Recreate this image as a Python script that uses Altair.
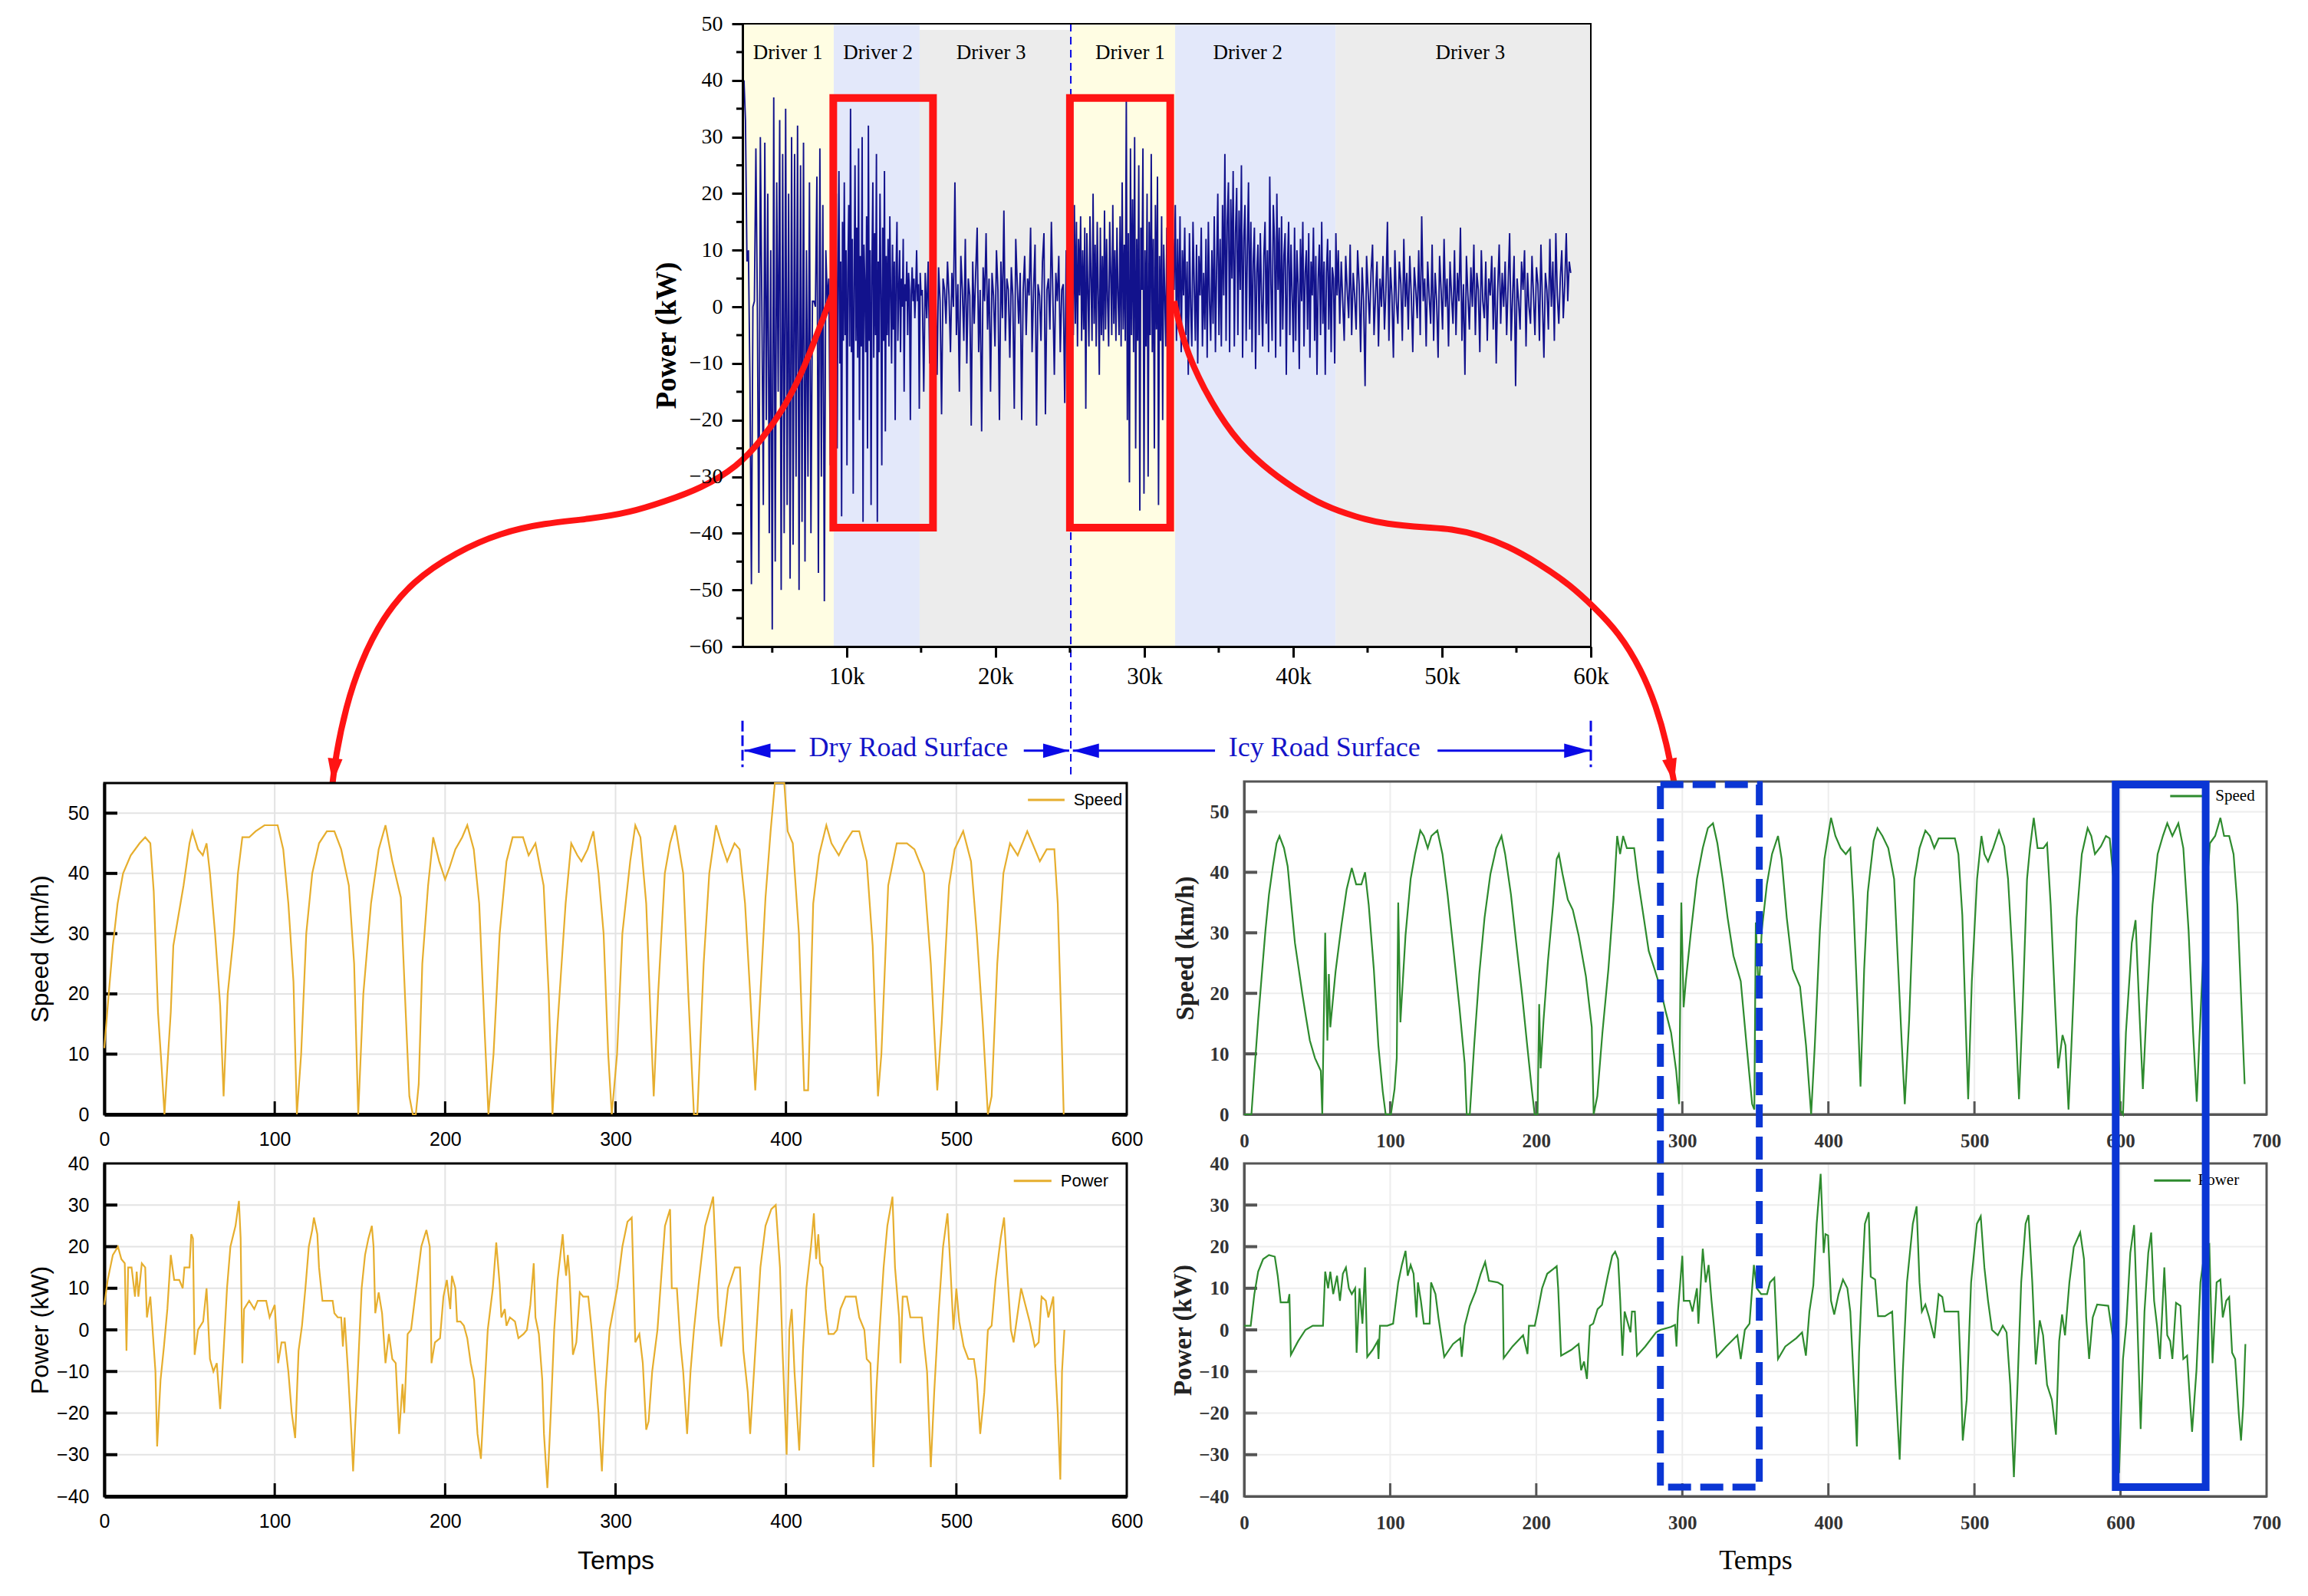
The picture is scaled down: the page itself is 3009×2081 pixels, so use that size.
import altair as alt
import pandas as pd

SERIF = "Liberation Serif"
SANS = "Liberation Sans"
RED = "#FF1414"
BLUE_TXT = "#1414C8"
BLUE_AR = "#0A0AE6"
BLUE_BOX = "#0B36D4"
NAVY = "#12128C"
ORANGE = "#E6AE2E"
GREEN = "#2E8B2E"

# whole-figure view (page minus 8px margin)
W, H = 2993, 2065
T_X, T_Y = (960, 2066), (835, 23)
L_X, R_X = (128, 1461), (1614, 2947)
LS_Y, LP_Y = (1445, 1013), (1943, 1509)
RS_Y, RP_Y = (1445, 1011), (1943, 1509)

T_XD, T_YD = (3000, 60000), (-60, 50)
L_XD, R_XD = (0, 600), (0, 700)
S_YD, P_YD = (0, 55), (-40, 40)

# ---------------- data: top power trace (kW), by driver segment ----------------
seg_a = [40, 33, 8, 10, -13, -49, 0, 1, 28, 0, -47, 30, 1, -35, 29, -20, 20, -40, 10, -57,
         37, -45, 22, -15, 33, -50, 27, -40, 35, -35, 20, -48, 30, -42, 27, -30, 32, -50, 25, -38,
         29, -45, 10, -30, 22, -40, 1, 1, 0, 23, -47, 28, -30, 18, -52, 10, 1, 5, -28, 8]
seg_b = [27, -34, 12, -8, 20, -25, 5, 24, -10, 8, -37, 15, -6, 22, -5, 10, -28, 6, 18, -7,
         35, -8, 12, -33, 3, 25, -6, 14, -9, 28, -20, 9, -7, 30, -38, 11, 4, -8, 16, -25,
         32, -6, 10, -35, 7, 22, -9, 13, -5, 27, -38, 8, -8, 20, 3, -28, 14, -6, 24, -22,
         9, -5, 12, -7, 16, 2, -10, 11, -4, 8, -20, 6, 15, -6, 3, 10, -8, 5, 0, 12,
         -15, 4, 1, 8, -5, 6, 3, -20, 2, 7, 1, 5, -2, 3, 10, 1, 4, -18, 6, 2]
seg_c = [3, -15, 6, -2, 8, -10, 2, 5, -5, 4, -12, 7, 1, -19, 5, 3, -3, 8, 2, -8,
         6, 0, 22, -5, 4, -15, 9, 3, -6, 12, -10, 5, 2, -21, 8, -3, 6, 14, -8, 3,
         -22, 7, 1, 13, -4, 5, -15, 6, 2, -7, 10, 3, -20, 8, -2, 17, -6, 5, 3, -9,
         7, 2, -18, 12, 4, -3, 6, -20, 3, 9, -5, 5, 2, 14, -8, 3, 11, -21, 4, 2,
         -6, 8, 13, -19, 3, 5, -4, 15, 2, -12, 6, 1, 9, -8, 3, 4, -17, 10, 2, 5, -3, 8]
seg_d = [-5, 18, -3, 15, -7, 12, 2, 16, -6, 10, -4, 14, -18, 13, 3, -7, 16, 5, -6, 20,
         -3, 11, -7, 15, 2, -12, 14, -5, 9, -6, 17, -4, 12, 1, -7, 15, 6, -5, 18, -3,
         10, -6, 14, 2, -5, 16, -7, 22, -4, 11, -6, 37, -20, 13, -31, 28, -5, 19, -8, 30,
         -25, 12, -6, 25, -36, 14, 3, 28, -33, 10, -7, 20, -30, 15, -5, 27, -8, 12, -25, 18,
         -4, 23, -35, 9, -6, 16, -20, 11, 2, -7, 14, -5, 10, -25, 6, -6, 12, 3]
seg_e = [18, -6, 12, -3, 16, -8, 10, 2, 14, -5, 8, -12, 13, 0, -7, 15, 4, -6, 11, -10,
         9, 2, 14, -7, 6, -4, 12, -9, 15, 1, -6, 10, -3, 16, -8, 7, 20, -5, 12, -7,
         18, 2, 27, -6, 15, 22, -8, 19, 5, 24, -7, 13, 21, -5, 17, 3, 25, -9, 12, 18,
         -6, 10, 22, -4, 15, -8, 8, 14, -11, 6, 11, -5, 13, 2, -7, 9, 15, -3, 10, -8,
         23, 4, -6, 18, 12, -9, 20, 3, 14, -7, 16, -4, 9, 13, -12, 7, 15, -5, 11, 2,
         -8, 14, -6, 10, 4, -11, 12, 1, 15, -7, 6, 10, -4, 13, -9, 8, 2, 14, -6, 9,
         -12, 5, 11, -5, 15, -3, 8, -12, 6, 12, -4, 10, -8, 7, 5, -10, 13, 2]
seg_f = [10, -3, 8, 1, -6, 9, 3, -2, 11, -5, 6, 2, -4, 10, 4, -8, 7, 1, -14, 9,
         3, -3, 6, 11, -5, 2, 8, -7, 5, 0, 9, -4, 3, 15, -6, 7, 2, -9, 10, 1,
         -3, 8, 4, -6, 12, 0, 6, -4, 9, 2, -8, 7, 3, -2, 10, -5, 16, 1, 5, -7,
         8, 2, -3, 11, -6, 6, 1, -9, 9, 3, -4, 12, 0, 5, -7, 8, 2, -3, 10, -5,
         6, 1, 14, -6, 4, -12, 9, 2, -4, 7, 0, 11, -5, 6, 3, -8, 10, 1, -2, 8,
         -6, 5, 2, 9, -4, 7, -10, 3, 11, -3, 6, 0, 8, -5, 4, 13, -6, 2, 9, -14,
         5, 1, -4, 8, 3, 10, -7, 6, 0, -3, 9, 2, -5, 7, 4, -6, 11, 1, -9, 6,
         3, -4, 12, 0, 8, -6, 13, 2, -3, 5, 10, -2, 4, 13, 1, 8, 6]
seg_span = [(3100, 9000), (9060, 15000), (15080, 25150), (25230, 32000), (32080, 42950), (43030, 58650)]

band_start = [3000, 9130, 14900, 25060, 32070, 42850]
band_end = [9130, 14900, 25060, 32070, 42850, 60000]
band_top = [50, 50, 48.9, 50, 50, 50]
band_color = ["#FFFDE3", "#E3E8FA", "#ECECEC", "#FFFDE3", "#E3E8FA", "#ECECEC"]
band_label = ["Driver 1", "Driver 2", "Driver 3", "Driver 1", "Driver 2", "Driver 3"]
band_label_x = [6050, 12100, 19700, 29050, 36950, 51900]

box_x1, box_x2 = [9100, 25000], [15800, 31740]
box_y1, box_y2 = [36.9, 36.9], [-39.0, -39.0]

curve_left = [(9000, 2), (8000, -4.9), (7200, -10.4), (5940, -17.3), (4300, -23.5), (2670, -28.2),
              (200, -32.1), (-2260, -34.4), (-4500, -36.3), (-7300, -37.5), (-10300, -38.2),
              (-13260, -39.9), (-16230, -43.3), (-19200, -48.5), (-21200, -55.0), (-22670, -62.8),
              (-23650, -70.6), (-24350, -79.6), (-24540, -84.1)]
curve_right = [(32000, 1), (32640, -6.5), (33900, -14.2), (35900, -22.8), (38000, -28.2),
               (40060, -32.1), (42100, -35.2), (44200, -37.1), (46200, -38.4), (49100, -39.0),
               (50600, -39.2), (52400, -40.2), (54400, -42.2), (56500, -45.3), (58600, -49.1),
               (60200, -53.0), (61900, -57.6), (63400, -64.1), (64400, -70.6), (65100, -77.1),
               (65600, -84.1)]
arrow_tip_x, arrow_tip_y, arrow_angle = [-24540, 65600], [-84.1, -84.1], [6, 349]

road_split = 25060
road_y = -78.4
road_seg_x1 = [3130, 21900, 25200, 49700]
road_seg_x2 = [6560, 24950, 34750, 59960]
road_text = ["Dry Road Surface", "Icy Road Surface"]
road_text_x = [14150, 42100]
road_left_tips = [3130, 25200]
road_right_tips = [24950, 59960]
road_bar_x = [3000, 60000]

ls_pairs = [(0, 11), (2, 18), (5, 28), (7.8, 35), (11, 40), (15.5, 43), (20.7, 45), (24, 46), (27, 45), (29, 37),
            (31.5, 17), (33.6, 8), (35.3, 0), (37, 8), (39, 17), (40.5, 28), (43.5, 33), (46.5, 38), (50, 45),
            (51.7, 47), (55, 44), (57.8, 43), (60, 45), (62, 40), (65, 30), (68, 18), (70, 3), (72.4, 20),
            (76, 30), (78.4, 40), (81, 46), (85, 46), (88.8, 47), (94, 48), (101.7, 48), (105, 44), (108, 35),
            (111, 22), (113, 0), (115.5, 10), (118.5, 30), (122, 40), (126, 45), (130.6, 47), (135, 47),
            (139, 44), (143.5, 38), (146.6, 25), (149, 0), (152, 20), (156.5, 35), (161, 44), (165, 48),
            (169, 42), (174, 36), (176.7, 18), (179, 3), (181, 0), (182.8, 0), (184.5, 5), (186.6, 25),
            (190, 38), (193, 46), (196.5, 42), (200, 39), (202.6, 41), (206, 44), (210, 46), (213, 48),
            (216.8, 44), (220, 35), (223, 15), (225.4, 0), (228.4, 10), (232, 30), (236, 42), (239.6, 46),
            (245.7, 46), (249, 43), (253, 45), (257.8, 38), (260.8, 20), (263, 0), (266, 15), (270.7, 35),
            (274, 45), (277.6, 43), (280, 42), (283.6, 44), (287, 47), (290, 40), (293, 30), (295.7, 10),
            (297.8, 0), (300.9, 10), (304, 30), (308.6, 42), (311.6, 48), (314.6, 46), (318, 35), (320.7, 15),
            (322.4, 3), (325, 20), (328.9, 40), (332, 45), (335, 48), (339.7, 40), (342.7, 20), (346, 0),
            (348, 0), (351.7, 25), (355, 40), (359, 48), (362, 45), (365.5, 42), (369.8, 45), (372.8, 44),
            (376, 35), (379, 20), (382, 4), (385, 20), (388, 36), (391, 47), (393.5, 55), (399, 55), (401, 47),
            (404, 45), (407.6, 30), (410.7, 4), (413, 4), (416, 35), (419.4, 43), (423.7, 48), (426.7, 45),
            (431, 43), (434.5, 45), (439, 47), (443, 47), (447.4, 42), (450.9, 28), (454, 3), (456, 10),
            (460, 38), (465, 45), (471, 45), (475.4, 44), (481, 40), (485, 25), (488.8, 4), (491.4, 15),
            (495.7, 38), (499, 44), (504, 47), (508.6, 42), (512, 30), (515.5, 15), (518.5, 0), (520.7, 3),
            (524, 25), (527.6, 40), (531.5, 45), (536, 43), (541.6, 47), (544.6, 45), (549, 42), (553, 44),
            (557.5, 44), (559.5, 35), (561.6, 15), (563, 0)]
lp_pairs = [(0, 6), (2, 12), (5, 18), (8, 20), (10, 17), (12, 16), (13, -5), (14, 15), (16, 15), (18, 8), (19, 14),
            (20, 8), (22, 16), (24, 15), (25, 3), (27, 8), (28, 2), (30, -10), (31, -28), (33, -12), (35, -4),
            (37, 5), (39, 18), (41, 12), (44, 12), (46, 10), (47, 15), (50, 15), (51, 23), (52, 22), (53, -6),
            (55, 0), (58, 2), (60, 10), (62, -7), (64, -10), (66, -8), (68, -19), (70, -5), (72, 10), (74, 20),
            (77, 25), (79, 31), (80, 22), (81, -8), (82, 5), (85, 7), (88, 5), (90, 7), (95, 7), (97, 3),
            (100, 6), (102, -8), (104, -3), (106, -3), (108, -10), (110, -20), (112, -26), (114, -5), (116, 1),
            (118, 10), (120, 20), (122, 24), (123, 27), (125, 23), (126, 15), (128, 7), (131, 7), (134, 7),
            (135, 4), (137, 3), (139, 3), (140, -4), (141, 3), (143, -10), (145, -25), (146, -34), (147, -25),
            (149, -8), (151, 10), (153, 18), (155, 22), (157, 25), (158, 20), (159, 4), (161, 9), (163, 4),
            (165, -8), (167, -1), (169, -7), (171, -8), (173, -25), (175, -13), (176, -20), (178, -1), (180, 0),
            (183, 10), (186, 20), (189, 24), (191, 20), (192, -8), (194, -3), (197, -2), (199, 8), (201, 12),
            (203, 5), (204, 13), (206, 10), (207, 2), (209, 2), (211, 1), (213, -2), (215, -8), (217, -12),
            (219, -25), (221, -31), (223, -15), (225, 0), (228, 10), (230, 21), (232, 11), (233, 3), (235, 5),
            (236, 1), (238, 3), (241, 2), (243, -2), (246, -1), (248, 0), (250, 6), (252, 16), (253, 3),
            (255, -1), (257, -12), (258, -25), (260, -38), (262, -20), (264, 0), (266, 12), (269, 23),
            (270, 17), (271, 13), (272, 18), (273, 13), (275, -6), (277, -3), (279, 9), (281, 8), (284, 8),
            (286, 0), (288, -10), (290, -20), (292, -34), (294, -15), (296.5, 0), (301, 10), (304, 20),
            (307, 26), (309.5, 27), (311.6, -3), (314, -1), (316, -8), (318, -24), (319.4, -22), (321.5, -10),
            (324.6, 0), (326.7, 12), (329, 25), (332, 29), (333, 10), (336, 10), (338, -3), (339.7, -10),
            (342, -25), (344, -10), (346, 0), (349, 12), (352.6, 25), (356, 30), (357.3, 32), (359, 16),
            (360.3, 3), (362, -4), (363.8, 2), (366, 10), (370, 15), (373, 15), (375, -5), (377.6, -15),
            (379, -25), (382, -5), (385, 15), (388, 25), (391.4, 29), (394, 30), (396.5, 15), (398, -5),
            (400.4, -30), (402, 0), (403.4, 5), (405, -10), (407.8, -29), (410, -5), (412, 10), (414.7, 20),
            (416.4, 28), (417.7, 17), (419, 23), (420, 16), (421.5, 15), (423.3, 5), (425, -1), (428, -1),
            (430, 0), (432, 5), (435, 8), (441, 8), (443, 3), (446, 0), (447.4, -7), (449.6, -8), (451.3, -33),
            (453, -15), (455, 0), (457.3, 15), (459.5, 25), (462.5, 32), (464, 15), (466.4, 3), (467.2, -8),
            (468.5, 8), (471, 8), (473, 3), (479.7, 3), (481, -3), (482.8, -10), (485, -33), (487, -15),
            (489.7, 5), (492.2, 20), (494.8, 28), (496.5, 15), (498.3, 0), (500, 10), (501.7, 2), (504.3, -4),
            (507, -7), (510.3, -7), (512, -12), (514, -25), (516.4, -15), (518.5, 0), (520.7, 1), (523, 12),
            (526, 22), (528, 27), (530, 13), (532, 0), (533.6, -3), (535.3, 2), (538, 10), (540.5, 6), (543, 2),
            (546, -4), (548.3, -3), (550, 8), (552.5, 7), (554, 3), (556.9, 8), (558, -8), (559.5, -20),
            (561, -36), (562, -10), (563.4, 0)]
rs_pairs = [(0, 0), (5, 0), (7, 7), (9.6, 15.6), (12, 22.8), (14.6, 30.4), (17, 36.3), (19.7, 41), (22.2, 44.8),
            (24.2, 46), (27.3, 44), (29.8, 41), (32.3, 34.6), (34.8, 28.3), (37.4, 24), (39.9, 19.8), (42.4, 16),
            (45, 12.2), (48.5, 9.3), (52.5, 7.2), (53.5, 0), (55.5, 30), (57, 12.2), (58, 23.2), (59, 14.4),
            (62.6, 23.6), (66.6, 31.2), (70.2, 37.2), (73.7, 40.7), (76.7, 38), (80.3, 38), (82.8, 40),
            (85.3, 34.6), (88.8, 24), (91.9, 11.4), (94.9, 3.8), (96.9, 0), (100.5, 0), (103, 4.2), (104.5, 9.3),
            (105.5, 35), (107, 15.2), (108, 19.4), (110.5, 29.6), (114, 38.9), (117, 43), (120.6, 46.9),
            (123, 46), (125.7, 44), (128.2, 46), (132.3, 46.9), (135.8, 43), (139.3, 36.3), (143.4, 27),
            (147.4, 17.7), (151, 8.4), (152.4, 0), (154.5, 0), (157.5, 11.4), (161, 23.2), (164.6, 32.5),
            (168.6, 39.7), (172.6, 44), (176.2, 46), (178.7, 43), (182.7, 36.3), (186.3, 28.3), (190.3, 19.8),
            (193.8, 11.4), (196.9, 4.2), (198.9, 0), (200.9, 0), (202, 18.2), (203, 7.6), (205, 15.6),
            (208, 25.3), (211.5, 34.6), (214, 42.2), (215.5, 43), (218, 39.7), (221.6, 35.5), (225, 33.8),
            (229, 29.6), (234, 22.8), (238, 14.4), (239.3, 0), (241.8, 3), (245.3, 13.5), (249.4, 24),
            (252.9, 35.5), (255.4, 46), (257.4, 43), (259.5, 46), (262, 44), (267, 44), (269.6, 38.9),
            (273.6, 32.5), (277, 27), (281, 24), (284.7, 21.1), (288.7, 16.9), (292.3, 13.5), (295.8, 7.2),
            (297.8, 1.7), (299.3, 35), (300.9, 17.7), (302.4, 22), (306, 30.4), (310, 38.9), (314, 44),
            (317.5, 47.3), (321, 48.1), (324, 44.8), (327.6, 38.9), (331, 32.5), (335, 26.2), (340, 22),
            (344, 11.4), (347.8, 1.7), (349.3, 0.8), (350.3, 31.7), (352.3, 19.8), (354.4, 30.4), (357.9, 38),
            (361.4, 43), (365.5, 46), (368, 42.2), (371.5, 32.5), (375.6, 24), (380.6, 21.1), (384.7, 11.4),
            (388.2, 0), (390.7, 11.4), (394.2, 30.4), (397.3, 42.2), (399.8, 46), (401.8, 49), (404.8, 46),
            (408.4, 44), (411.9, 43), (415, 44), (417, 35.5), (420, 17.7), (422, 4.6), (424.5, 24), (427, 36.7),
            (431, 45.2), (433.6, 47.3), (437, 46), (441, 44), (445, 38.9), (447, 28.3), (450.3, 11.4),
            (452.3, 1.7), (455.3, 15.6), (458.9, 38.9), (462.4, 44), (466.4, 46.9), (469.5, 46), (472.5, 44),
            (475.5, 45.6), (479, 45.6), (482.6, 45.6), (486.6, 45.6), (489, 43), (491.7, 32.9), (494.2, 13.5),
            (495.7, 2.5), (498.2, 22), (501.8, 38.9), (504.8, 46), (506.8, 43), (509.3, 41.8), (512.8, 44),
            (516.8, 46.9), (520.4, 44.3), (523, 38.9), (526, 26.2), (528.5, 13.5), (530.5, 2.5), (533, 17.7),
            (536, 38.9), (538, 44), (540.6, 49), (543.2, 44), (547.2, 44), (549.7, 44.8), (552.2, 34.6),
            (555.3, 17.7), (557.3, 7.6), (560.3, 13.1), (562.3, 11.4), (564.4, 0.8), (566.4, 11.4), (570, 32.5),
            (573.5, 43), (577.5, 47.3), (580, 46), (582.5, 43), (586.6, 44.3), (590, 46), (592.6, 45.6),
            (595.2, 38.9), (597.7, 24), (599.7, 0.8), (601.7, 0), (603.7, 13.5), (607.7, 28.3), (610.3, 32.1),
            (612.8, 17.7), (615.3, 4.2), (617.9, 17.7), (621.9, 34.6), (625.4, 43), (629, 46), (632, 48.1),
            (635.5, 46), (639.6, 48.1), (643, 44), (646.6, 30.4), (649.7, 13.5), (652.2, 2.1), (654.2, 13.5),
            (658.2, 34.6), (661.2, 44.8), (664.8, 46), (668.4, 49), (670.9, 46), (674.4, 46), (677.4, 43),
            (680, 34.6), (682.5, 19.8), (685, 5)]
rp_pairs = [(0, 1), (4.5, 1), (7, 8.6), (9.6, 14), (13, 17), (17, 18), (21, 17.6), (23, 13), (25, 6.6), (30, 6.6),
            (31, 8.6), (32, -6), (37, -2.7), (42, 0), (47, 1), (54, 1), (55.5, 14), (57.5, 10), (59, 14),
            (61, 8.6), (63.6, 13), (65.6, 7), (67.6, 13.5), (69.7, 15), (71.7, 10), (73.7, 8.6), (76, 10),
            (77, -5.5), (79, 10), (81, 1.5), (82.8, 15), (84.3, -6.5), (88, -4.8), (91.4, -2.7), (92, -7),
            (93, 1), (98, 1), (102, 1.5), (105.5, 11.4), (108, 15.6), (110.5, 19), (112, 13), (114, 15.6),
            (116, 13.5), (118, 3), (119, 11.4), (121, 7), (123, 1.5), (127, 1.5), (128, 11.4), (131, 8.6),
            (133, 3), (137, -6.5), (143, -3.4), (148, -2), (149, -6.5), (151, 1), (154.5, 5.8), (158.5, 9.3),
            (162, 13.5), (165, 16.3), (167.6, 11.8), (173.6, 11.4), (177, 10.7), (177.7, -6.8), (183.7, -4),
            (191, -1.3), (194, -5.8), (195, 1), (199, 1), (201, 4.4), (204, 10), (207.5, 13.5), (211.5, 14.6),
            (214, 15.3), (215, 10), (217, -6.2), (224, -4.8), (229, -3.4), (230.7, -9.7), (232.7, -7.6),
            (234.7, -11.8), (236.7, 1), (239, 1.5), (242, 5), (245, 6), (249, 13), (252, 17.8), (254, 18.8),
            (256, 17), (257.5, 7), (259, -6.2), (260.5, 4.4), (264.5, -0.6), (265.5, 4.4), (267.5, 4.4),
            (269, -6.2), (274.6, -4), (282, -0.6), (285, 0), (292, 0.7), (295, 1.2), (296, -4), (297, 4.4),
            (300, 17.8), (301, 7), (305, 7), (307, 4.4), (310, 10), (311, 1.5), (314, 19.5), (316, 11.4),
            (318, 15.6), (320, 7), (321.5, 1.5), (323.6, -6.5), (330, -4), (337.7, -1.3), (340, -7), (342.8, 0),
            (346, 1.5), (349, 15.6), (351, 10), (354, 8.6), (358, 8.6), (360, 11.4), (363, 12.5), (365.5, -7),
            (370.5, -4), (378, -2), (382, -0.6), (384.6, -6.2), (387, 4.4), (389.7, 10.7), (392, 25.5),
            (394.7, 37.5), (396.8, 18.5), (398, 23), (399.8, 22.7), (401.8, 7), (404, 3.7), (407, 8.6),
            (410, 12.1), (413, 10), (415, 4.4), (417, -9.7), (418.5, -19.6), (419.5, -28), (421, -5.5),
            (423, 11.4), (425, 25.5), (427.6, 28.3), (429, 12.8), (432, 12.1), (434, 3.3), (438.7, 3.3),
            (443.7, 4.4), (446, -13.2), (448.8, -31.2), (451, -9.7), (453.8, 11.4), (457.8, 25.5), (460.4, 29.7),
            (462.4, 11.4), (464, 4.4), (466.4, 6.1), (469, 3), (472.5, -2), (475.5, 8.6), (478, 7.9),
            (479.6, 4.4), (489, 4.4), (490.6, -9.7), (492, -26.6), (494.7, -16.8), (497.7, 11.4), (501.7, 25.5),
            (504.3, 27.3), (506.8, 15), (509.3, 7), (512, 0), (516, -1.3), (519.4, 1), (522, -0.6),
            (524.5, -13.2), (527, -35.4), (529.5, -13.2), (532, 11.4), (535, 25.5), (537, 27.6), (539.6, 11.4),
            (542, -8.3), (544.7, 2.3), (547, -1.3), (549.7, -13.2), (553, -16.8), (555.8, -25.2), (558, -2.7),
            (560, 3.7), (562, -1.3), (565, 11.4), (568, 19.9), (572.4, 23.4), (575, 17), (576.5, 3),
            (578.5, -7), (581, 3), (584, 6.1), (591.6, 5.8), (594, 0), (596.7, -7), (599, -34.4), (601.7, -7),
            (604, 1.5), (606.7, 18.5), (609.3, 25.2), (611.3, 4.4), (613.8, -23.8), (616.4, 4.4), (619, 18.5),
            (621, 23.4), (623, 7), (625, 1), (627, -7), (630, 15), (632, -1.3), (634, -2.7), (635.5, -7),
            (638, 6.5), (641, 5.8), (643, -7), (645.6, -6.2), (647, -14), (649, -24.5), (652, -9.7),
            (654.7, 11.4), (658, 19.9), (660.8, 20.6), (663, -8), (665.8, 11.4), (668.4, 12.1), (670, 3),
            (672.4, 7), (674.4, 7.9), (676.4, -5.5), (678.5, -7), (681, -20.3), (682.5, -26.6), (684, -18.2),
            (685.5, -3.4)]

hl_x1 = [285, 596.7]
hl_x2 = [352.7, 658.3]
hl_top_speed = 54.5
hl_bottom_power = -37.8


def scale(dom, rng):
    return alt.Scale(domain=list(dom), range=list(rng), nice=False, zero=False)


def ppu(dom, rng):
    return abs(rng[1] - rng[0]) / abs(dom[1] - dom[0])


# ---------------- top panel ----------------
txs, tys = scale(T_XD, T_X), scale(T_YD, T_Y)
tx_ppu, ty_ppu = ppu(T_XD, T_X), ppu(T_YD, T_Y)


def TX(f, axis=None):
    return alt.X(f, type="quantitative", scale=txs, axis=axis)


def TY(f, axis=None):
    return alt.Y(f, type="quantitative", scale=tys, axis=axis)


top_t, top_p = [], []
for (s, e), vals in zip(seg_span, [seg_a, seg_b, seg_c, seg_d, seg_e, seg_f]):
    step = (e - s) / (len(vals) - 1)
    for i, v in enumerate(vals):
        top_t.append(s + i * step)
        top_p.append(v)
df_top = pd.DataFrame({"t": top_t, "p": top_p})

top_xaxis = alt.Axis(orient="bottom", offset=T_Y[0] - H, values=[10000, 20000, 30000, 40000, 50000, 60000],
                     labelExpr="datum.value / 1000 + 'k'", tickSize=14, tickWidth=3, tickColor="black",
                     domain=True, domainColor="black", domainWidth=3, labels=True, labelFont=SERIF,
                     labelFontSize=31, labelColor="black", labelPadding=10, labelFlush=False,
                     labelOverlap=False, grid=False, title=None, zindex=2)
top_yaxis = alt.Axis(orient="left", offset=-T_X[0], values=list(range(-60, 51, 10)), tickSize=14, tickWidth=3,
                     tickColor="black", domain=True, domainColor="black", domainWidth=3, labels=True,
                     labelFont=SERIF, labelFontSize=28, labelColor="black", labelPadding=12, labelFlush=False,
                     labelOverlap=False, grid=False, title="Power (kW)", titleFont=SERIF, titleFontSize=37,
                     titleFontWeight="bold", titleColor="black", titleX=-99, titleY=(T_Y[0] + T_Y[1]) / 2,
                     titleAngle=270, titleAlign="center", titleBaseline="middle", zindex=2)

charts = []

df_bands = pd.DataFrame({"s": band_start, "e": band_end, "b": [-60] * 6, "top": band_top, "c": band_color})
charts.append(alt.Chart(df_bands).mark_rect().encode(
    x=TX("s"), x2=alt.X2("e"), y=TY("b"), y2=alt.Y2("top"), color=alt.Color("c:N", scale=None)))

df_dl = pd.DataFrame({"x": band_label_x, "y": [43.8] * 6, "l": band_label})
charts.append(alt.Chart(df_dl).mark_text(font=SERIF, fontSize=27, color="black", align="center",
                                         baseline="alphabetic").encode(x=TX("x"), y=TY("y"), text="l:N"))

df_split = pd.DataFrame({"x": [road_split], "y1": [50], "y2": [-82.6]})
charts.append(alt.Chart(df_split).mark_rule(color=BLUE_AR, strokeWidth=2, strokeDash=[10, 7]).encode(
    x=TX("x"), y=TY("y1"), y2=alt.Y2("y2")))

charts.append(alt.Chart(df_top).mark_line(color=NAVY, strokeWidth=1.9).encode(
    x=TX("t", top_xaxis), y=TY("p", top_yaxis)))

df_tframe = pd.DataFrame({"x1": [3000], "x2": [60000], "y1": [-60], "y2": [50]})
charts.append(alt.Chart(df_tframe).mark_rect(fillOpacity=0, stroke="black", strokeWidth=2).encode(
    x=TX("x1"), x2=alt.X2("x2"), y=TY("y1"), y2=alt.Y2("y2")))

minor_x = [5000, 15000, 25000, 35000, 45000, 55000]
minor_y = [-55, -45, -35, -25, -15, -5, 5, 15, 25, 35, 45]
df_mx = pd.DataFrame({"x": minor_x, "y1": [-60] * len(minor_x), "y2": [-60 - 8 / ty_ppu] * len(minor_x)})
df_my = pd.DataFrame({"y": minor_y, "x1": [3000] * len(minor_y), "x2": [3000 - 8 / tx_ppu] * len(minor_y)})
charts.append(alt.Chart(df_mx).mark_rule(color="black", strokeWidth=3).encode(
    x=TX("x"), y=TY("y1"), y2=alt.Y2("y2")))
charts.append(alt.Chart(df_my).mark_rule(color="black", strokeWidth=3).encode(
    y=TY("y"), x=TX("x1"), x2=alt.X2("x2")))

curve_rows = []
for cid, pts in enumerate([curve_left, curve_right]):
    for i, (x, y) in enumerate(pts):
        curve_rows.append({"x": x, "y": y, "o": i, "id": cid})
df_curve = pd.DataFrame(curve_rows)
charts.append(alt.Chart(df_curve).mark_line(color=RED, strokeWidth=8, interpolate="basis").encode(
    x=TX("x"), y=TY("y"), order="o:Q", detail="id:N"))

df_box = pd.DataFrame({"x1": box_x1, "x2": box_x2, "y1": box_y1, "y2": box_y2})
charts.append(alt.Chart(df_box).mark_rect(fillOpacity=0, stroke=RED, strokeWidth=10).encode(
    x=TX("x1"), x2=alt.X2("x2"), y=TY("y1"), y2=alt.Y2("y2")))

df_arrow = pd.DataFrame({"x": arrow_tip_x, "y": arrow_tip_y, "a": arrow_angle})
charts.append(alt.Chart(df_arrow).mark_point(shape="M0,0L-0.6,-2L0.6,-2Z", filled=True, size=1024, color=RED,
                                             opacity=1, strokeWidth=0).encode(
    x=TX("x"), y=TY("y"), angle=alt.Angle("a:Q", scale=None)))

df_seg = pd.DataFrame({"x1": road_seg_x1, "x2": road_seg_x2, "y": [road_y] * 4})
charts.append(alt.Chart(df_seg).mark_rule(color=BLUE_AR, strokeWidth=3).encode(
    x=TX("x1"), x2=alt.X2("x2"), y=TY("y")))
df_lt = pd.DataFrame({"x": road_left_tips, "y": [road_y] * 2})
df_rt = pd.DataFrame({"x": road_right_tips, "y": [road_y] * 2})
charts.append(alt.Chart(df_lt).mark_point(shape="M0,0L2,-0.55L2,0.55Z", filled=True, size=1156, color=BLUE_AR,
                                          opacity=1, strokeWidth=0).encode(x=TX("x"), y=TY("y")))
charts.append(alt.Chart(df_rt).mark_point(shape="M0,0L-2,-0.55L-2,0.55Z", filled=True, size=1156, color=BLUE_AR,
                                          opacity=1, strokeWidth=0).encode(x=TX("x"), y=TY("y")))
df_bar = pd.DataFrame({"x": road_bar_x, "y1": [-73.1] * 2, "y2": [-81.3] * 2})
charts.append(alt.Chart(df_bar).mark_rule(color=BLUE_AR, strokeWidth=3, strokeDash=[14, 5]).encode(
    x=TX("x"), y=TY("y1"), y2=alt.Y2("y2")))
df_rtext = pd.DataFrame({"x": road_text_x, "y": [-79.4] * 2, "l": road_text})
charts.append(alt.Chart(df_rtext).mark_text(font=SERIF, fontSize=36, color=BLUE_TXT, align="center",
                                            baseline="alphabetic").encode(x=TX("x"), y=TY("y"), text="l:N"))


# ---------------- bottom panels ----------------
def bottom_panel(pairs, xdom, xr, ydom, yr, color, st, ytitle, ytitle_x, xvals, yvals, xin, yin,
                 legend, xtitle=None, extra=()):
    xs, ys = scale(xdom, xr), scale(ydom, yr)
    xp, yp = ppu(xdom, xr), ppu(ydom, yr)

    def PX(f, axis=None):
        return alt.X(f, type="quantitative", scale=xs, axis=axis)

    def PY(f, axis=None):
        return alt.Y(f, type="quantitative", scale=ys, axis=axis)

    xkw = dict(orient="bottom", offset=yr[0] - H, values=xvals, tickSize=0, domain=True, domainColor=st["dom"],
               domainWidth=st["domw_x"], labels=True, labelFont=st["font"], labelFontSize=25,
               labelColor=st["lab"], labelFontWeight=st["lw"], labelPadding=st["lpad_x"], labelFlush=False,
               labelOverlap=False, grid=False)
    if xtitle:
        xkw.update(title=xtitle, titleFont=st["tfont"], titleFontSize=st["xts"], titleFontWeight="normal",
                   titleColor="black", titleX=(xr[0] + xr[1]) / 2, titleY=st["xty"], titleAngle=0,
                   titleAlign="center", titleBaseline="middle")
    else:
        xkw.update(title=None)
    ykw = dict(orient="left", offset=-xr[0], values=yvals, tickSize=0, domain=True, domainColor=st["dom"],
               domainWidth=st["domw_y"], labels=True, labelFont=st["font"], labelFontSize=25,
               labelColor=st["lab"], labelFontWeight=st["lw"], labelPadding=20, labelFlush=False,
               labelOverlap=False, grid=False, title=ytitle,
               titleFont=st["tfont"], titleFontSize=st["yts"], titleFontWeight=st["tw"], titleColor=st["tcol"],
               titleX=ytitle_x, titleY=(yr[0] + yr[1]) / 2, titleAngle=270, titleAlign="center",
               titleBaseline="middle")

    out = []
    # grid lines
    dgx = pd.DataFrame({"x": xin, "y1": [ydom[0]] * len(xin), "y2": [ydom[1]] * len(xin)})
    dgy = pd.DataFrame({"y": yin, "x1": [xdom[0]] * len(yin), "x2": [xdom[1]] * len(yin)})
    out.append(alt.Chart(dgx).mark_rule(color=st["grid"], strokeWidth=2).encode(
        x=PX("x"), y=PY("y1"), y2=alt.Y2("y2")))
    out.append(alt.Chart(dgy).mark_rule(color=st["grid"], strokeWidth=2).encode(
        y=PY("y"), x=PX("x1"), x2=alt.X2("x2")))

    dff = pd.DataFrame({"x1": [xdom[0]], "x2": [xdom[1]], "y1": [ydom[0]], "y2": [ydom[1]]})
    out.append(alt.Chart(dff).mark_rect(fillOpacity=0, stroke=st["dom"], strokeWidth=3).encode(
        x=PX("x1"), x2=alt.X2("x2"), y=PY("y1"), y2=alt.Y2("y2")))

    # inward ticks
    dxt = pd.DataFrame({"x": xin, "y1": [ydom[0]] * len(xin), "y2": [ydom[0] + 17 / yp] * len(xin)})
    dyt = pd.DataFrame({"y": yin, "x1": [xdom[0]] * len(yin), "x2": [xdom[0] + 17 / xp] * len(yin)})
    out.append(alt.Chart(dxt).mark_rule(color=st["dom"], strokeWidth=3).encode(
        x=PX("x"), y=PY("y1"), y2=alt.Y2("y2")))
    out.append(alt.Chart(dyt).mark_rule(color=st["dom"], strokeWidth=4).encode(
        y=PY("y"), x=PX("x1"), x2=alt.X2("x2")))

    df = pd.DataFrame({"t": [p[0] for p in pairs], "v": [p[1] for p in pairs]})
    out.append(alt.Chart(df).mark_line(color=color, strokeWidth=2.2).encode(
        x=PX("t", alt.Axis(**xkw)), y=PY("v", alt.Axis(**ykw))))

    name, lx1, lx2, ly, tx_, fs = legend
    dleg = pd.DataFrame({"x1": [lx1], "x2": [lx2], "y": [ly], "tx": [tx_], "l": [name]})
    out.append(alt.Chart(dleg).mark_rule(color=color, strokeWidth=3).encode(
        x=PX("x1"), x2=alt.X2("x2"), y=PY("y")))
    out.append(alt.Chart(dleg).mark_text(font=st["tfont"], fontSize=fs, color="black", align="left",
                                         baseline="middle").encode(x=PX("tx"), y=PY("y"), text="l:N"))
    for make in extra:
        out.append(make(PX, PY))
    return out


left_style = dict(font=SANS, tfont=SANS, lab="black", lw="normal", dom="black", domw_x=5, domw_y=4,
                  grid="#E3E3E3", tw="normal", tcol="black", lpad_x=20, xts=34, xty=84, yts=32)
right_style = dict(font=SERIF, tfont=SERIF, lab="#333333", lw="bold", dom="#555555", domw_x=3, domw_y=3,
                   grid="#EDEDED", tw="bold", tcol="#222222", lpad_x=22, xts=36, xty=83, yts=33)

rs_ppu = ppu(S_YD, RS_Y)
rp_ppu = ppu(P_YD, RP_Y)
hl_top_view = RS_Y[0] - hl_top_speed * rs_ppu
hl_top_power = P_YD[0] + (RP_Y[0] - hl_top_view) / rp_ppu


def blue_dashed(PX, PY):
    d = pd.DataFrame({"x1": [hl_x1[0]], "x2": [hl_x2[0]], "y1": [hl_bottom_power], "y2": [hl_top_power]})
    return alt.Chart(d).mark_rect(fillOpacity=0, stroke=BLUE_BOX, strokeWidth=9, strokeDash=[30, 12]).encode(
        x=PX("x1"), x2=alt.X2("x2"), y=PY("y1"), y2=alt.Y2("y2"))


def blue_solid(PX, PY):
    d = pd.DataFrame({"x1": [hl_x1[1]], "x2": [hl_x2[1]], "y1": [hl_bottom_power], "y2": [hl_top_power]})
    return alt.Chart(d).mark_rect(fillOpacity=0, stroke=BLUE_BOX, strokeWidth=10).encode(
        x=PX("x1"), x2=alt.X2("x2"), y=PY("y1"), y2=alt.Y2("y2"))


charts += bottom_panel(ls_pairs, L_XD, L_X, S_YD, LS_Y, ORANGE, left_style, "Speed (km/h)", -84,
                       list(range(0, 601, 100)), list(range(0, 51, 10)), [100, 200, 300, 400, 500],
                       [10, 20, 30, 40, 50], ("Speed", 542, 563.5, 52.2, 568.8, 22))
charts += bottom_panel(lp_pairs, L_XD, L_X, P_YD, LP_Y, ORANGE, left_style, "Power (kW)", -84,
                       list(range(0, 601, 100)), list(range(-40, 41, 10)), [100, 200, 300, 400, 500],
                       [-30, -20, -10, 0, 10, 20, 30], ("Power", 533.7, 555.8, 35.8, 561.2, 22), xtitle="Temps")
charts += bottom_panel(rs_pairs, R_XD, R_X, S_YD, RS_Y, GREEN, right_style, "Speed (km/h)", -77,
                       list(range(0, 701, 100)), list(range(0, 51, 10)), [100, 200, 300, 400, 500, 600],
                       [10, 20, 30, 40, 50], ("Speed", 634, 656, 52.6, 665, 21))
charts += bottom_panel(rp_pairs, R_XD, R_X, P_YD, RP_Y, GREEN, right_style, "Power (kW)", -80,
                       list(range(0, 701, 100)), list(range(-40, 41, 10)), [100, 200, 300, 400, 500, 600],
                       [-30, -20, -10, 0, 10, 20, 30], ("Power", 623, 648, 35.9, 653, 21), xtitle="Temps",
                       extra=(blue_dashed, blue_solid))

chart = alt.layer(*charts).resolve_scale(
    x="independent", y="independent").resolve_axis(x="independent", y="independent").properties(
    width=W, height=H, autosize=alt.AutoSizeParams(type="none"), padding=0, background="white"
).configure_view(strokeWidth=0)

chart.save("out.html", embed_options={"renderer": "svg", "actions": False})
